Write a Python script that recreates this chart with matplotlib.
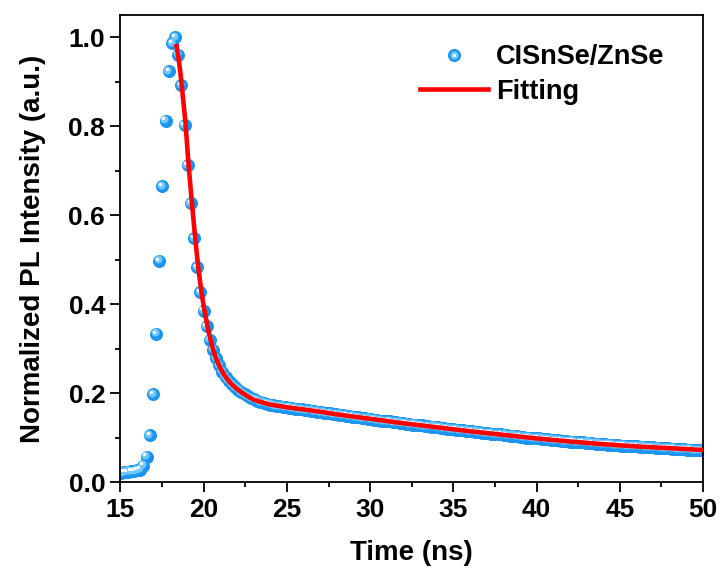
import matplotlib
matplotlib.use('Agg')
import matplotlib.pyplot as plt
import matplotlib.transforms as mtransforms
from matplotlib.lines import Line2D
from matplotlib.legend_handler import HandlerTuple
from matplotlib.ticker import MultipleLocator, FormatStrFormatter

# ---------------- data ----------------
time_ns = [
    15.05, 15.24, 15.43, 15.62, 15.81, 16.00, 16.19, 16.38, 16.57, 16.76,
    16.95, 17.14, 17.33, 17.52, 17.71, 17.90, 18.09, 18.28, 18.47, 18.66,
    18.85, 19.04, 19.23, 19.42, 19.61, 19.80, 19.99, 20.18, 20.37, 20.56,
    20.75, 20.94, 21.13, 21.32, 21.51, 21.70, 21.89, 22.08, 22.27, 22.46,
    22.65, 22.84, 23.03, 23.22, 23.41, 23.60, 23.79, 23.98, 24.17, 24.36,
    24.55, 24.74, 24.93, 25.12, 25.31, 25.50, 25.69, 25.88, 26.07, 26.26,
    26.45, 26.64, 26.83, 27.02, 27.21, 27.40, 27.59, 27.78, 27.97, 28.16,
    28.35, 28.54, 28.73, 28.92, 29.11, 29.30, 29.49, 29.68, 29.87, 30.06,
    30.25, 30.44, 30.63, 30.82, 31.01, 31.20, 31.39, 31.58, 31.77, 31.96,
    32.15, 32.34, 32.53, 32.72, 32.91, 33.10, 33.29, 33.48, 33.67, 33.86,
    34.05, 34.24, 34.43, 34.62, 34.81, 35.00, 35.19, 35.38, 35.57, 35.76,
    35.95, 36.14, 36.33, 36.52, 36.71, 36.90, 37.09, 37.28, 37.47, 37.66,
    37.85, 38.04, 38.23, 38.42, 38.61, 38.80, 38.99, 39.18, 39.37, 39.56,
    39.75, 39.94, 40.13, 40.32, 40.51, 40.70, 40.89, 41.08, 41.27, 41.46,
    41.65, 41.84, 42.03, 42.22, 42.41, 42.60, 42.79, 42.98, 43.17, 43.36,
    43.55, 43.74, 43.93, 44.12, 44.31, 44.50, 44.69, 44.88, 45.07, 45.26,
    45.45, 45.64, 45.83, 46.02, 46.21, 46.40, 46.59, 46.78, 46.97, 47.16,
    47.35, 47.54, 47.73, 47.92, 48.11, 48.30, 48.49, 48.68, 48.87, 49.06,
    49.25, 49.44, 49.63, 49.82,
]

pl_intensity = [
    0.021, 0.023, 0.024, 0.025, 0.026, 0.027, 0.029, 0.038, 0.058, 0.106,
    0.198, 0.334, 0.498, 0.665, 0.813, 0.924, 0.987, 1.000, 0.961, 0.892,
    0.803, 0.713, 0.627, 0.549, 0.483, 0.427, 0.386, 0.351, 0.321, 0.298,
    0.279, 0.263, 0.249, 0.238, 0.229, 0.221, 0.214, 0.208, 0.203, 0.198,
    0.194, 0.190, 0.187, 0.184, 0.181, 0.179, 0.177, 0.175, 0.174, 0.172,
    0.171, 0.170, 0.169, 0.168, 0.167, 0.166, 0.165, 0.164, 0.163, 0.162,
    0.161, 0.160, 0.159, 0.158, 0.157, 0.156, 0.155, 0.154, 0.153, 0.152,
    0.151, 0.150, 0.149, 0.148, 0.147, 0.146, 0.145, 0.144, 0.143, 0.142,
    0.141, 0.140, 0.139, 0.138, 0.138, 0.137, 0.136, 0.135, 0.134, 0.133,
    0.132, 0.131, 0.130, 0.130, 0.129, 0.128, 0.127, 0.126, 0.125, 0.125,
    0.124, 0.123, 0.122, 0.121, 0.120, 0.120, 0.119, 0.118, 0.117, 0.116,
    0.115, 0.115, 0.114, 0.113, 0.112, 0.111, 0.111, 0.110, 0.109, 0.108,
    0.108, 0.107, 0.106, 0.105, 0.105, 0.104, 0.103, 0.102, 0.101, 0.101,
    0.100, 0.099, 0.099, 0.098, 0.097, 0.097, 0.096, 0.095, 0.095, 0.094,
    0.093, 0.093, 0.092, 0.092, 0.091, 0.090, 0.090, 0.089, 0.089, 0.088,
    0.087, 0.087, 0.086, 0.086, 0.085, 0.085, 0.084, 0.084, 0.083, 0.083,
    0.082, 0.082, 0.081, 0.081, 0.080, 0.080, 0.079, 0.079, 0.079, 0.078,
    0.078, 0.077, 0.077, 0.077, 0.076, 0.076, 0.075, 0.075, 0.075, 0.074,
    0.074, 0.073, 0.073, 0.073,
]

fit_time = [
    18.35, 18.50, 18.60, 18.75, 18.90, 19.00, 19.10, 19.20, 19.30, 19.40,
    19.50, 19.60, 19.70, 19.80, 19.90, 20.00, 20.10, 20.20, 20.30, 20.40,
    20.50, 20.60, 20.70, 20.80, 20.90, 21.00, 21.10, 21.25, 21.40, 21.55,
    21.70, 21.85, 22.00, 22.25, 22.50, 22.75, 23.00, 23.50, 24.00, 24.50,
    25.00, 26.00, 27.00, 28.00, 29.00, 30.00, 32.00, 34.00, 36.00, 38.00,
    40.00, 42.00, 44.00, 46.00, 48.00, 50.00,
]

fit_intensity = [
    0.985, 0.950, 0.920, 0.866, 0.810, 0.760, 0.710, 0.667, 0.625, 0.585,
    0.545, 0.509, 0.475, 0.446, 0.420, 0.396, 0.375, 0.356, 0.338, 0.322,
    0.307, 0.294, 0.283, 0.273, 0.265, 0.257, 0.250, 0.241, 0.233, 0.226,
    0.220, 0.215, 0.210, 0.203, 0.197, 0.191, 0.186, 0.180, 0.175, 0.172,
    0.169, 0.164, 0.159, 0.153, 0.148, 0.143, 0.133, 0.124, 0.115, 0.107,
    0.099, 0.092, 0.086, 0.081, 0.077, 0.073,
]

series_label = 'CISnSe/ZnSe'
fit_label = 'Fitting'
x_label = 'Time (ns)'
y_label = 'Normalized PL Intensity (a.u.)'

# ---------------- style ----------------
plt.rcParams['font.family'] = ['Liberation Sans', 'DejaVu Sans']
plt.rcParams['font.weight'] = 'bold'

blue = '#1A94EC'
blue_light = '#6FC6FA'
red = '#FF0000'

fig = plt.figure(figsize=(7.21, 5.75), dpi=100)
fig.patch.set_facecolor('white')
ax = fig.add_axes([0.1671, 0.1609, 0.8079, 0.8130])

# spheres: base + highlight layers
ax.scatter(time_ns, pl_intensity, s=88, color=blue, linewidths=0, zorder=2)
tr1 = mtransforms.offset_copy(ax.transData, fig=fig, x=-1.0, y=1.0, units='points')
ax.scatter(time_ns, pl_intensity, s=34, color=blue_light, linewidths=0,
           zorder=2.1, transform=tr1)
tr2 = mtransforms.offset_copy(ax.transData, fig=fig, x=-1.6, y=1.6, units='points')
ax.scatter(time_ns, pl_intensity, s=6, color='white', linewidths=0,
           zorder=2.2, transform=tr2)

ax.plot(fit_time, fit_intensity, color=red, lw=3.3, zorder=3,
        solid_capstyle='butt', solid_joinstyle='round')

ax.set_xlim(15, 50)
ax.set_ylim(0, 1.05)
ax.xaxis.set_major_locator(MultipleLocator(5))
ax.xaxis.set_minor_locator(MultipleLocator(2.5))
ax.yaxis.set_major_locator(MultipleLocator(0.2))
ax.yaxis.set_minor_locator(MultipleLocator(0.1))
ax.yaxis.set_major_formatter(FormatStrFormatter('%.1f'))

for sp in ax.spines.values():
    sp.set_linewidth(1.3)
    sp.set_color('black')

ax.tick_params(which='major', direction='out', length=7, width=1.3,
               labelsize=19, pad=4, top=False, right=False)
ax.tick_params(which='minor', direction='out', length=3.5, width=1.3,
               top=False, right=False)
for lab in ax.get_xticklabels() + ax.get_yticklabels():
    lab.set_fontweight('bold')

ax.set_xlabel(x_label, fontsize=20, fontweight='bold', labelpad=13)
ax.set_ylabel(y_label, fontsize=20, fontweight='bold', labelpad=16)

h_base = Line2D([], [], ls='none', marker='o', markersize=9.4, color=blue, markeredgewidth=0)
h_mid = Line2D([], [], ls='none', marker='o', markersize=5.8, color=blue_light, markeredgewidth=0)
h_hi = Line2D([], [], ls='none', marker='o', markersize=2.4, color='white', markeredgewidth=0)
h_fit = Line2D([], [], color=red, lw=3.3)

ax.legend([(h_base, h_mid, h_hi), h_fit], [series_label, fit_label],
          handler_map={tuple: HandlerTuple(ndivide=1)},
          loc='upper left', bbox_to_anchor=(0.515, 0.938), frameon=False,
          prop=dict(weight='bold', size=19.5), handlelength=2.5,
          handletextpad=0.3, labelspacing=0.33, borderpad=0, borderaxespad=0)

fig.savefig('out.png', dpi=100, facecolor='white')
